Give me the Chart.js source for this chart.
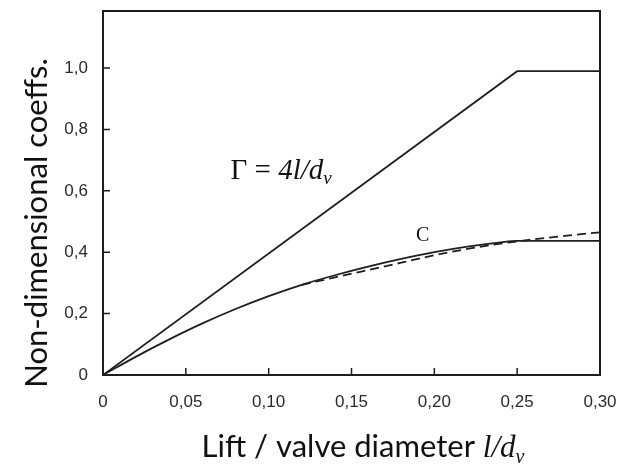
<!DOCTYPE html>
<html>
<head>
<meta charset="utf-8">
<script src="https://cdn.jsdelivr.net/npm/chart.js@4.4.1/dist/chart.umd.min.js"></script>
<style>
  html, body { margin: 0; padding: 0; background: #fff; }
  #chart { display: block; }
</style>
</head>
<body>
<canvas id="chart" width="630" height="468"></canvas>
<script>
// tick values and the labels printed for them (comma decimals as in the source)
const xTicks = [0, 0.05, 0.10, 0.15, 0.20, 0.25, 0.30];
const xTickLabels = ['0', '0,05', '0,10', '0,15', '0,20', '0,25', '0,30'];
const yTicks = [0, 0.2, 0.4, 0.6, 0.8, 1.0];
const yTickLabels = ['0', '0,2', '0,4', '0,6', '0,8', '1,0'];

// Gamma = 4 l/dv, capped at 1
const gammaX = [0, 0.25, 0.30];
const gammaY = [0, 0.99, 0.99];

// discharge coefficient C (solid)
const cX = [0, 0.02, 0.04, 0.06, 0.08, 0.10, 0.12, 0.14, 0.16, 0.18, 0.20, 0.22, 0.24, 0.25, 0.30];
const cY = [0, 0.06, 0.116, 0.168, 0.215, 0.257, 0.294, 0.325, 0.353, 0.378, 0.40, 0.418, 0.432, 0.437, 0.437];

// second C curve (dashed)
const cdX = [0.12, 0.14, 0.16, 0.18, 0.20, 0.22, 0.24, 0.26, 0.28, 0.30];
const cdY = [0.294, 0.318, 0.342, 0.366, 0.39, 0.411, 0.428, 0.442, 0.454, 0.465];

const toPoints = (xs, ys) => xs.map((x, i) => ({ x, y: ys[i] }));
const ink = '#1e1e1e';

// draws a row of text pieces with different fonts
function runsWidth(ctx, runs) {
  let w = 0;
  runs.forEach(r => { ctx.font = r.font; w += ctx.measureText(r.text).width; });
  return w;
}
function drawRuns(ctx, runs, x, y) {
  runs.forEach(r => {
    ctx.font = r.font;
    ctx.fillText(r.text, x, y + (r.dy || 0));
    x += ctx.measureText(r.text).width;
  });
}

const decor = {
  id: 'decor',
  afterDatasetsDraw(chart) {
    const { ctx, chartArea: a, scales: { x, y } } = chart;
    ctx.save();
    ctx.strokeStyle = ink;
    ctx.lineWidth = 2;
    ctx.strokeRect(a.left, a.top, a.right - a.left, a.bottom - a.top);

    // inward tick marks
    ctx.lineWidth = 1.5;
    ctx.beginPath();
    x.ticks.forEach(t => {
      const px = x.getPixelForValue(t.value);
      ctx.moveTo(px, a.bottom);
      ctx.lineTo(px, a.bottom - 7);
    });
    y.ticks.forEach(t => {
      const py = y.getPixelForValue(t.value);
      ctx.moveTo(a.left, py);
      ctx.lineTo(a.left + 7, py);
    });
    ctx.stroke();

    ctx.fillStyle = '#111';
    ctx.textBaseline = 'alphabetic';
    ctx.textAlign = 'left';

    // curve labels
    drawRuns(ctx, [
      { text: 'Γ = ', font: '29px "Liberation Serif"' },
      { text: '4l/d', font: 'italic 29px "Liberation Serif"' },
      { text: 'v', font: 'italic 19px "Liberation Serif"', dy: 5 }
    ], x.getPixelForValue(0.077), y.getPixelForValue(0.638));

    ctx.font = '20px "Liberation Serif"';
    ctx.fillText('C', x.getPixelForValue(0.189), y.getPixelForValue(0.436));

    // x axis title
    const xt = [
      { text: 'Lift / valve diameter ', font: '31px Lato' },
      { text: 'l/d', font: 'italic 31px "Liberation Serif"' },
      { text: 'v', font: 'italic 20px "Liberation Serif"', dy: 6 }
    ];
    drawRuns(ctx, xt, 363 - runsWidth(ctx, xt) / 2, 457);

    // y axis title
    ctx.translate(47, 223);
    ctx.rotate(-Math.PI / 2);
    ctx.font = '31px Lato';
    ctx.textAlign = 'center';
    ctx.fillText('Non-dimensional coeffs.', 0, 0);
    ctx.restore();
  }
};

new Chart(document.getElementById('chart'), {
  type: 'line',
  data: {
    datasets: [
      {
        data: toPoints(gammaX, gammaY),
        borderColor: ink,
        borderWidth: 1.8,
        tension: 0
      },
      {
        data: toPoints(cX, cY),
        borderColor: ink,
        borderWidth: 1.8,
        cubicInterpolationMode: 'monotone'
      },
      {
        data: toPoints(cdX, cdY),
        borderColor: ink,
        borderWidth: 1.8,
        borderDash: [9, 5],
        cubicInterpolationMode: 'monotone'
      }
    ]
  },
  options: {
    responsive: false,
    animation: false,
    events: [],
    layout: { padding: { top: 11, right: 30, left: 0, bottom: 0 } },
    elements: { point: { radius: 0 } },
    plugins: { legend: { display: false }, tooltip: { enabled: false } },
    scales: {
      x: {
        type: 'linear',
        min: 0,
        max: 0.30,
        afterBuildTicks: s => { s.ticks = xTicks.map(v => ({ value: v })); },
        afterFit: s => { s.height = 93; s.paddingLeft = 0; s.paddingRight = 0; },
        grid: { display: false, drawTicks: false },
        border: { display: false },
        ticks: {
          padding: 17,
          maxRotation: 0,
          autoSkip: false,
          color: '#2a2a2a',
          font: { family: 'Liberation Sans', size: 17 },
          callback: (v, i) => xTickLabels[i]
        }
      },
      y: {
        min: 0,
        max: 1.186,
        afterBuildTicks: s => { s.ticks = yTicks.map(v => ({ value: v })); },
        afterFit: s => { s.width = 103; s.paddingTop = 0; s.paddingBottom = 0; },
        grid: { display: false, drawTicks: false },
        border: { display: false },
        ticks: {
          padding: 15,
          autoSkip: false,
          color: '#2a2a2a',
          font: { family: 'Liberation Sans', size: 17 },
          callback: (v, i) => yTickLabels[i]
        }
      }
    }
  },
  plugins: [decor]
});
</script>
</body>
</html>
